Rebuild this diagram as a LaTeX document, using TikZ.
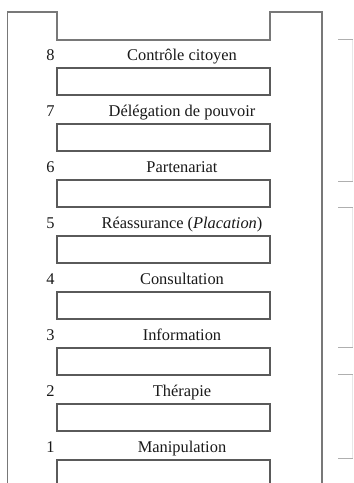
\documentclass[tikz,border=0pt]{standalone}
\usepackage{fontspec}
\setmainfont{Liberation Serif}
\usepackage{xcolor}
\usepackage{tikz}
\usetikzlibrary{positioning, calc}
\definecolor{ladderline}{RGB}{120, 120, 120}
\definecolor{rungline}{RGB}{90, 90, 90}
\definecolor{bracketgray}{RGB}{175, 175, 175}

\begin{document}
\begin{tikzpicture}[
    rung/.style={rectangle, draw=rungline, line width=0.9pt,
        minimum width=6.39cm, minimum height=0.81cm, inner sep=0pt},
    steptext/.style={anchor=base, font=\fontsize{14}{16}\selectfont,
        text=black!90, inner sep=0pt},
    stepnum/.style={anchor=base, font=\fontsize{14}{16}\selectfont,
        text=black!90, inner sep=0pt},
    rail/.style={draw=ladderline, line width=1pt},
    bracket/.style={draw=bracketgray, line width=0.8pt},
    bracketback/.style={draw=bracketgray!30, line width=0.6pt},
]

% ── FRAME (also fixes the bounding box) ─────────────────────────────────────
\clip (0,0) rectangle (10.59,-14.49);
\fill[white] (0,0) rectangle (10.59,-14.49);

% ── LADDER OUTLINE ──────────────────────────────────────────────────────────
\draw[rail] (0.225,-14.6) -- (0.225,-0.36) -- (1.71,-0.36) -- (1.71,-1.20)
    -- (8.10,-1.20) -- (8.10,-0.36) -- (9.66,-0.36) -- (9.66,-14.6);

% ── RUNGS (centred at x=4.905) ──────────────────────────────────────────────
\node[rung] at (4.905,  -2.445) (r8) {};
\node[rung] at (4.905,  -4.125) (r7) {};
\node[rung] at (4.905,  -5.805) (r6) {};
\node[rung] at (4.905,  -7.485) (r5) {};
\node[rung] at (4.905,  -9.165) (r4) {};
\node[rung] at (4.905, -10.845) (r3) {};
\node[rung] at (4.905, -12.525) (r2) {};
\node[rung] at (4.905, -14.205) (r1) {};

% ── STEP NUMBERS ────────────────────────────────────────────────────────────
\node[stepnum] at (1.515,  -1.80) (n8) {8};
\node[stepnum] at (1.515,  -3.48) (n7) {7};
\node[stepnum] at (1.515,  -5.16) (n6) {6};
\node[stepnum] at (1.515,  -6.84) (n5) {5};
\node[stepnum] at (1.515,  -8.52) (n4) {4};
\node[stepnum] at (1.515, -10.20) (n3) {3};
\node[stepnum] at (1.515, -11.88) (n2) {2};
\node[stepnum] at (1.515, -13.56) (n1) {1};

% ── STEP NAMES ──────────────────────────────────────────────────────────────
\node[steptext] at (5.46,  -1.80) (t8) {Contrôle citoyen};
\node[steptext] at (5.46,  -3.48) (t7) {Délégation de pouvoir};
\node[steptext] at (5.46,  -5.16) (t6) {Partenariat};
\node[steptext] at (5.46,  -6.84) (t5) {Réassurance (\textit{Placation})};
\node[steptext] at (5.46,  -8.52) (t4) {Consultation};
\node[steptext] at (5.46, -10.20) (t3) {Information};
\node[steptext] at (5.46, -11.88) (t2) {Thérapie};
\node[steptext] at (5.46, -13.56) (t1) {Manipulation};

% ── GROUP BRACKETS (cut off at the right edge) ──────────────────────────────
\coordinate (b8top) at (10.575,  -1.185);
\coordinate (b6bot) at (10.575,  -5.43);
\coordinate (b5top) at (10.575,  -6.225);
\coordinate (b3bot) at (10.575, -10.41);
\coordinate (b2top) at (10.575, -11.235);
\coordinate (b1bot) at (10.575, -13.755);

\draw[bracketback] (b8top) -- (b6bot);
\draw[bracketback] (b5top) -- (b3bot);
\draw[bracketback] (b2top) -- (b1bot);

\draw[bracket] ($(b8top)+(-0.435,0)$) -- (b8top);
\draw[bracket] ($(b6bot)+(-0.435,0)$) -- (b6bot);
\draw[bracket] ($(b5top)+(-0.435,0)$) -- (b5top);
\draw[bracket] ($(b3bot)+(-0.435,0)$) -- (b3bot);
\draw[bracket] ($(b2top)+(-0.435,0)$) -- (b2top);
\draw[bracket] ($(b1bot)+(-0.435,0)$) -- (b1bot);

\end{tikzpicture}
\end{document}
